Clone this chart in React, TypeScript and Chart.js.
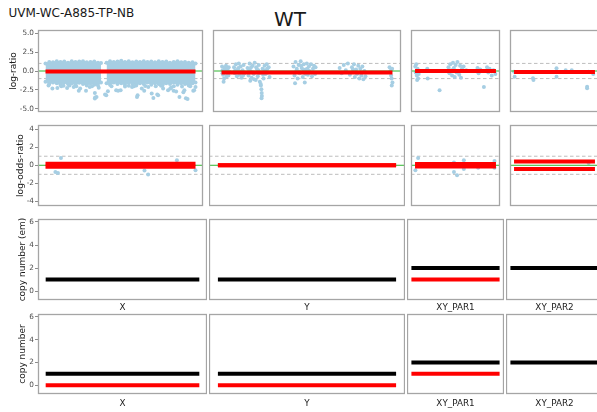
import React, { useEffect, useRef } from 'react';
import { Chart, registerables } from 'chart.js';

Chart.register(...registerables);
Chart.defaults.font.family = "'DejaVu Sans', sans-serif";

// ---------------- Data ----------------
const SAMPLE = 'UVM-WC-A885-TP-NB';
const TITLE = 'WT';
const CHROMS = ['X', 'Y', 'XY_PAR1', 'XY_PAR2'];
const ROW_TITLES = ['log-ratio', 'log-odds-ratio', 'copy number (em)', 'copy number'];

const LR_TICKS = [-5, -2.5, 0, 2.5, 5];
const LOR_TICKS = [-4, -2, 0, 2, 4];
const CN_TICKS = [0, 2, 4, 6];

const SEG_START = [0, 0, 0, 0];
const SEG_END = [100, 100, 100, 100];

const LR_SEG = [-0.07, -0.2, 0.0, -0.13];
const LOR_SEG = [0.17, 0.0, 0.13, 0.41];
const CN_EM_TOTAL = [1, 1, 2, 2];
const CN_EM_MINOR: (number | null)[] = [null, null, 1, null];
const CN_TOTAL = [1, 1, 2, 2];
const CN_MINOR: (number | null)[] = [0, 0, 1, null];

// log-ratio, chromosome X: dense core of points (upper / lower edge), two blocks
const LR_X_CORE1_POS = [0, 2.5, 5, 7.5, 10, 12.5, 15, 17.5, 20, 22.5, 25, 27.5, 30, 32.5, 35, 37];
const LR_X_CORE1_UP = [1.0, 1.2, 1.15, 1.3, 1.2, 1.25, 1.1, 1.3, 1.2, 1.25, 1.3, 1.15, 1.2, 1.25, 1.1, 1.05];
const LR_X_CORE1_LO = [-1.4, -1.7, -1.5, -1.6, -1.8, -1.5, -1.7, -1.6, -1.8, -1.55, -1.7, -1.9, -1.6, -1.8, -1.9, -1.5];
const LR_X_CORE2_POS = [40.7, 43, 45.5, 48, 50.5, 53, 55.5, 58, 60.5, 63, 65.5, 68, 70.5, 73, 75.5, 78, 80.5, 83, 85.5, 88, 90.5, 93, 95.5, 98, 100];
const LR_X_CORE2_UP = [1.1, 1.3, 1.2, 1.25, 1.35, 1.2, 1.3, 1.15, 1.25, 1.2, 1.3, 1.2, 1.25, 1.15, 1.3, 1.2, 1.25, 1.1, 1.2, 1.3, 1.15, 1.2, 1.1, 1.15, 1.0];
const LR_X_CORE2_LO = [-1.6, -1.8, -1.5, -1.7, -1.6, -1.8, -1.5, -1.7, -1.9, -1.6, -1.7, -1.5, -1.8, -1.6, -1.7, -1.9, -1.6, -1.7, -1.5, -1.8, -1.6, -1.7, -1.9, -1.6, -1.5];

// log-ratio points outside the core
const LR_X_POS = [2.0, 4.6, 7.9, 10.5, 12.0, 14.4, 16.0, 18.8, 20.5, 22.2, 23.1, 27.0, 29.5, 31.0, 32.9, 33.1, 34.0, 32.9, 35.5, 39.7, 40.5, 41.6, 44.0, 47.1, 48.4, 50.1, 53.0, 55.5, 57.7, 59.0, 61.0, 61.4, 64.2, 65.8, 66.5, 68.5, 70.8, 71.9, 73.5, 74.5, 75.1, 77.0, 78.4, 81.7, 83.2, 83.8, 85.4, 85.5, 87.1, 89.3, 91.0, 91.9, 92.6, 93.6, 94.7, 96.5, 98.5, 99.1, 100];
const LR_X_VAL = [-1.9, -2.32, -2.24, -2.0, -1.95, -2.24, -1.9, -2.1, -2.0, -2.6, -2.32, -2.6, -2.1, -2.0, -2.9, -3.5, -3.42, -3.63, -2.2, -3.1, -3.2, -2.67, -2.0, -2.54, -2.6, -2.54, -2.05, -1.95, -2.1, -2.0, -3.42, -3.2, -2.32, -2.6, -1.97, -2.1, -2.97, -3.55, -2.0, -3.1, -3.2, -1.95, -2.32, -2.54, -2.3, -2.18, -2.6, -2.0, -2.71, -3.42, -2.05, -2.8, -2.54, -3.6, -3.7, -2.0, -2.6, -2.54, -2.1];

const LR_Y_POS = [
  0.3, 0.6, 0.9, 1.5, 1.8, 2.2, 2.6, 3.0, 3.4, 3.8, 4.2, 1.2, 4.6, 0.5, 2.0, 3.2, 4.0,
  7.3, 7.8, 8.4, 9.0, 9.5, 10.1, 10.6, 11.2, 11.7, 12.3, 12.9, 13.4, 8.0, 9.8, 11.0, 12.6,
  15.2, 15.8, 16.4, 17.0, 17.6, 18.2, 18.8, 19.4, 20.0, 20.6, 21.2, 21.8, 22.4, 23.0, 23.3, 23.5, 23.6, 23.4, 24.0, 24.6, 25.2, 25.8, 26.4, 27.0, 27.6, 28.1, 22.9, 19.0, 16.8, 16.0, 17.3, 18.5, 20.3, 21.5, 22.0, 24.3, 25.5, 26.8,
  42.1, 42.7, 43.3, 43.9, 44.5, 45.1, 45.7, 46.3, 46.9, 47.5, 48.1, 48.7, 49.3, 49.9, 50.5, 51.1, 51.7, 52.3, 52.9, 53.5, 54.1, 54.7, 55.0, 43.0, 44.0, 45.4, 46.6, 47.8, 49.0, 50.2, 51.4,
  69.1, 70.3, 71.5, 72.7, 73.9, 75.1, 76.3, 77.5, 78.0, 78.7, 79.3, 80.0, 80.6, 81.2, 81.8, 82.4, 83.0, 83.6, 84.2, 76.9,
  98.3, 98.8, 99.2, 99.5, 99.8, 100, 99.6,
];
const LR_Y_VAL = [
  0.6, 0.1, -0.5, -1.0, 0.4, -0.2, 0.7, -0.7, 0.2, -0.4, 0.5, -1.4, -0.1, -0.3, 0.0, 0.3, -0.6,
  0.5, -0.3, 0.9, -0.7, 0.2, 1.0, -0.5, 0.6, -0.9, 0.1, 0.8, -0.3, 0.1, 0.4, -0.1, -0.6,
  0.4, -0.6, 1.0, 0.0, -0.9, 0.7, -0.4, 1.1, -1.2, 0.3, -0.7, 0.8, -1.4, -1.9, -2.4, -2.9, -3.3, -3.6, 0.3, -1.0, 0.7, -0.4, 0.9, -0.2, 0.5, -0.8, -1.7, -1.1, -1.3, 0.2, 0.5, -0.2, 0.5, 0.1, -0.3, -0.5, 0.1, 0.3,
  0.6, -0.6, 1.2, 0.1, -1.0, 0.8, -0.3, 1.3, 0.4, -0.8, 0.9, -1.5, 0.2, 1.0, -0.5, 0.6, -0.2, 0.9, -0.7, 0.3, 0.7, -0.4, 0.5, -1.6, 0.3, -0.1, 0.7, 0.2, -0.4, 0.3, 0.0,
  0.4, -0.3, 0.8, 0.1, 1.0, -0.5, 0.5, 0.9, -0.8, 0.2, -0.4, 0.7, -1.0, 0.3, -0.6, 0.6, -1.1, 0.0, -0.7, 0.2,
  0.5, 0.0, -0.6, -1.0, 0.3, -1.5, -1.9,
];

const LR_PAR1_POS = [0.3, 0.8, 1.5, 2.2, 3.0, 3.8, 4.5, 2.6, 15.1, 15.6, 30.3, 41.3, 42.5, 43.6, 44.7, 45.8, 46.9, 48.0, 49.1, 50.2, 51.3, 52.4, 53.5, 54.6, 55.7, 56.8, 58.0, 60.0, 63.3, 77.2, 78.5, 80.6, 85.1, 89.0, 90.5, 92.0, 94.8, 97.0, 99.3];
const LR_PAR1_VAL = [0.6, -0.2, 0.9, -0.6, 0.3, -1.0, -0.4, -1.2, 0.3, -1.0, -2.55, 0.5, -0.3, 0.9, 0.1, -0.6, 1.1, 0.4, -0.8, 0.8, -0.2, 1.2, 0.0, -0.5, 0.7, -0.9, 0.3, 0.6, 0.1, 0.4, -0.3, 0.2, -2.1, 0.5, -0.2, 0.3, -0.6, 0.1, -0.4];

const LR_PAR2_POS = [0.0, 0.7, 23.4, 24.0, 52.5, 52.5, 63.8, 71.3, 90.3, 90.3, 92.2, 97.9];
const LR_PAR2_VAL = [-0.1, -0.75, -0.96, -1.18, 0.35, -0.75, 0.1, 0.1, -2.07, -2.28, -0.1, -0.4];

// log-odds-ratio points
const LOR_X_POS = [6.6, 8.3, 10.3, 66.0, 68.4, 87.6, 100];
const LOR_X_VAL = [-0.74, -0.85, 0.81, -0.59, -1.03, 0.56, -0.56];
const LOR_Y_POS: number[] = [];
const LOR_Y_VAL: number[] = [];
const LOR_PAR1_POS = [0.4, 3.8, 48.1, 48.1, 51.9, 60.3, 60.3, 78.0, 98.2, 98.2];
const LOR_PAR1_VAL = [-0.56, 0.81, 0.30, -0.74, -1.11, 0.56, -0.41, -0.26, 0.48, -0.26];
const LOR_PAR2_POS = [92.2];
const LOR_PAR2_VAL = [0.26];

// ---------------- Layout / style ----------------
const X_MIN = -5;
const X_MAX = 105;
const Y_MIN = [-5.4, -4.5, -0.78, -0.77];
const Y_MAX = [5.4, 4.45, 6.26, 6.26];
const ROW_TICKS = [LR_TICKS, LOR_TICKS, CN_TICKS, CN_TICKS];
const COL_LEFT = [38, 209, 407, 506];
const COL_W = [169, 196, 97, 97];
const ROW_TOP = [30, 125, 219, 314];
const ROW_H = [82, 81, 81, 80];
const XLAB_H = [0, 0, 13, 15];
const TITLE_PAD = [8.1, 14.9, 17.1, 17.6];
const Y_AXIS_W = 38;
const PAD = 6;

const BLUE = '#a6cee3';
const RED = '#ff0000';
const BLACK = '#000000';
const GREEN = '#2fb52f';
const DASH = '#bdbdbd';
const FRAME = '#a5a5a5';

const zip = (xs: number[], ys: number[]) => xs.map((x, i) => ({ x, y: ys[i] }));

const framePlugin = {
  id: 'panelFrame',
  afterDatasetsDraw(chart: any) {
    const { ctx, chartArea } = chart;
    const { left, top, right, bottom } = chartArea;
    ctx.save();
    ctx.strokeStyle = FRAME;
    ctx.lineWidth = 1.3;
    ctx.strokeRect(left + 0.5, top + 0.5, right - left - 1, bottom - top - 1);
    ctx.restore();
  },
};

function buildDatasets(r: number, c: number) {
  const ds: any[] = [];
  const seg = (y: number, color: string) => ({
    data: [{ x: SEG_START[c], y }, { x: SEG_END[c], y }],
    borderColor: color, borderWidth: 4, borderCapStyle: 'butt',
    pointRadius: 0, fill: false, clip: 0, order: 0,
  });
  const hline = (y: number, color: string, width: number, dash: number[], order: number) => ({
    data: [{ x: X_MIN, y }, { x: X_MAX, y }],
    borderColor: color, borderWidth: width, borderDash: dash,
    pointRadius: 0, fill: false, clip: 0, order,
  });
  const pts = (xs: number[], ys: number[]) => ({
    data: zip(xs, ys), showLine: false, pointRadius: 2,
    pointBackgroundColor: BLUE, pointBorderWidth: 0, pointBorderColor: BLUE,
    fill: false, clip: 0, order: 3,
  });
  const core = (xs: number[], up: number[], lo: number[]) => {
    ds.push({
      data: zip(xs, up), borderColor: BLUE, borderWidth: 1, pointRadius: 2,
      pointBackgroundColor: BLUE, pointBorderWidth: 0, fill: false, clip: 0, order: 4,
    });
    ds.push({
      data: zip(xs, lo), borderColor: BLUE, borderWidth: 1, pointRadius: 2,
      pointBackgroundColor: BLUE, pointBorderWidth: 0, backgroundColor: BLUE,
      fill: '-1', clip: 0, order: 4,
    });
  };

  if (r === 0) {
    const P = [LR_X_POS, LR_Y_POS, LR_PAR1_POS, LR_PAR2_POS];
    const V = [LR_X_VAL, LR_Y_VAL, LR_PAR1_VAL, LR_PAR2_VAL];
    ds.push(seg(LR_SEG[c], RED));
    ds.push(hline(0, GREEN, 1, [], 1));
    ds.push(hline(1, DASH, 1, [3.5, 2.5], 5));
    ds.push(hline(-1, DASH, 1, [3.5, 2.5], 5));
    ds.push(pts(P[c], V[c]));
    if (c === 0) {
      core(LR_X_CORE1_POS, LR_X_CORE1_UP, LR_X_CORE1_LO);
      core(LR_X_CORE2_POS, LR_X_CORE2_UP, LR_X_CORE2_LO);
    }
  } else if (r === 1) {
    const P = [LOR_X_POS, LOR_Y_POS, LOR_PAR1_POS, LOR_PAR2_POS];
    const V = [LOR_X_VAL, LOR_Y_VAL, LOR_PAR1_VAL, LOR_PAR2_VAL];
    ds.push(seg(LOR_SEG[c], RED));
    ds.push(seg(-LOR_SEG[c], RED));
    ds.push(hline(0, GREEN, 1, [], 1));
    ds.push(hline(1, DASH, 1, [3.5, 2.5], 5));
    ds.push(hline(-1, DASH, 1, [3.5, 2.5], 5));
    ds.push(pts(P[c], V[c]));
  } else {
    const total = r === 2 ? CN_EM_TOTAL : CN_TOTAL;
    const minor = r === 2 ? CN_EM_MINOR : CN_MINOR;
    ds.push(seg(total[c], BLACK));
    const m = minor[c];
    if (m !== null) ds.push(seg(m, RED));
  }
  return ds;
}

function makeOptions(r: number, c: number): any {
  const first = c === 0;
  const xlab = XLAB_H[r] > 0;
  const x: any = {
    type: 'linear', min: X_MIN, max: X_MAX,
    display: xlab,
    ticks: { display: false },
    grid: { display: false },
    border: { display: false },
    title: {
      display: xlab, text: CHROMS[c], color: '#1a1a1a',
      font: { size: 8.8 }, padding: { top: 0, bottom: 0 },
    },
  };
  if (xlab) x.afterFit = (s: any) => { s.height = XLAB_H[r]; };
  const y: any = {
    type: 'linear', min: Y_MIN[r], max: Y_MAX[r],
    display: first,
    afterBuildTicks: (s: any) => { s.ticks = ROW_TICKS[r].map((v) => ({ value: v })); },
    ticks: {
      color: '#4d4d4d', font: { size: 7.3 }, padding: 1,
      callback: (v: any) => (r === 0 ? Number(v).toFixed(1) : String(v)),
    },
    grid: {
      display: true, drawOnChartArea: false, drawTicks: true,
      tickLength: 3, tickColor: '#8c8c8c', tickWidth: 1,
    },
    border: { display: false },
    title: {
      display: true, text: ROW_TITLES[r], color: '#1a1a1a',
      font: { size: 9 }, padding: { top: TITLE_PAD[r], bottom: 0 },
    },
  };
  if (first) y.afterFit = (s: any) => { s.width = Y_AXIS_W; };
  return {
    animation: false,
    responsive: false,
    maintainAspectRatio: false,
    devicePixelRatio: 1,
    events: [],
    layout: { padding: { top: PAD, bottom: xlab ? 0 : PAD, left: 0, right: 0 } },
    plugins: { legend: { display: false }, tooltip: { enabled: false }, title: { display: false } },
    scales: { x, y },
  };
}

function Panel({ r, c }: { r: number; c: number }) {
  const ref = useRef<HTMLCanvasElement>(null);
  const first = c === 0;
  const left = first ? 0 : COL_LEFT[c];
  const width = first ? COL_LEFT[0] + COL_W[0] : COL_W[c];
  const top = ROW_TOP[r] - PAD;
  const height = PAD + ROW_H[r] + (XLAB_H[r] || PAD);

  useEffect(() => {
    if (!ref.current) return;
    const chart = new Chart(ref.current, {
      type: 'line',
      data: { datasets: buildDatasets(r, c) },
      options: makeOptions(r, c),
      plugins: [framePlugin],
    } as any);
    return () => chart.destroy();
  }, [r, c]);

  return (
    <canvas
      ref={ref}
      width={width}
      height={height}
      style={{ position: 'absolute', left, top, width, height }}
    />
  );
}

export default function App() {
  const panels: React.ReactNode[] = [];
  for (let r = 0; r < 4; r++) {
    for (let c = 0; c < 4; c++) {
      panels.push(<Panel key={`${r}-${c}`} r={r} c={c} />);
    }
  }
  const font = "'DejaVu Sans', sans-serif";
  return (
    <div style={{ position: 'fixed', left: 0, top: 0, width: 597, height: 412, overflow: 'hidden', background: '#ffffff' }}>
      <div style={{ position: 'absolute', left: 8.5, top: 6.5, fontFamily: font, fontSize: 12, fontWeight: 400, lineHeight: '12px', color: '#1a1a1a', whiteSpace: 'nowrap' }}>
        {SAMPLE}
      </div>
      <div style={{ position: 'absolute', left: 290, top: 9, transform: 'translateX(-50%)', fontFamily: font, fontSize: 20, fontWeight: 400, lineHeight: '20px', color: '#1a1a1a', whiteSpace: 'nowrap' }}>
        {TITLE}
      </div>
      {panels}
    </div>
  );
}
